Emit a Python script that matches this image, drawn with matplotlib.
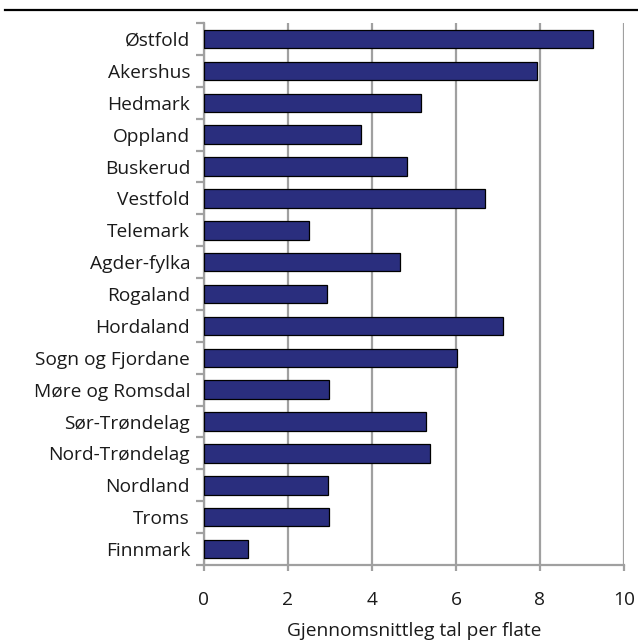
import matplotlib.pyplot as plt
import numpy as np

plt.rcParams['font.family'] = ['Open Sans', 'DejaVu Sans']

fylke = ["Østfold", "Akershus", "Hedmark", "Oppland", "Buskerud", "Vestfold",
         "Telemark", "Agder-fylka", "Rogaland", "Hordaland", "Sogn og Fjordane",
         "Møre og Romsdal", "Sør-Trøndelag", "Nord-Trøndelag", "Nordland",
         "Troms", "Finnmark"]
snitt = [9.27, 7.92, 5.17, 3.75, 4.83, 6.69, 2.51, 4.66, 2.94, 7.13, 6.02,
         2.98, 5.29, 5.38, 2.96, 2.98, 1.05]
xticks = [0, 2, 4, 6, 8, 10]

GREY = '#a0a0a0'
FS = 13.8

fig = plt.figure(figsize=(6.38, 6.41), dpi=100)
ax = fig.add_axes([0.3197, 0.1186, 0.978 - 0.3197, 0.964 - 0.1186])

pos = np.arange(len(fylke))
ax.barh(pos, snitt, height=0.58, color='#2a2e7e', edgecolor='black',
        linewidth=0.9, zorder=3)

ax.set_xlim(0, 10)
ax.set_ylim(len(fylke) - 0.5, -0.5)

ax.set_xticks(xticks)
ax.set_xticklabels([str(t) for t in xticks])
ax.xaxis.grid(True, color=GREY, linewidth=1.6, zorder=0)
ax.tick_params(axis='x', direction='out', length=4, width=1.6, color=GREY,
               labelsize=FS, pad=15, labelcolor='#1a1a1a')

# category ticks between bars, labels centred on bars
ax.set_yticks(np.arange(len(fylke) + 1) - 0.5)
ax.set_yticklabels([])
ax.set_yticks(pos, minor=True)
ax.set_yticklabels(fylke, minor=True)
ax.tick_params(axis='y', which='major', direction='out', length=6, width=1.6,
               color=GREY)
ax.tick_params(axis='y', which='minor', length=0, labelsize=FS, pad=10,
               labelcolor='#1a1a1a')

for s in ['top', 'right']:
    ax.spines[s].set_visible(False)
for s in ['left', 'bottom']:
    ax.spines[s].set_color(GREY)
    ax.spines[s].set_linewidth(1.6)

ax.set_xlabel('Gjennomsnittleg tal per flate', fontsize=FS, labelpad=9,
              color='#1a1a1a')

fig.add_artist(plt.Line2D([5 / 638, 1], [1 - 10 / 641, 1 - 10 / 641],
                          color='black', linewidth=1.6,
                          transform=fig.transFigure))

fig.savefig('out.png', dpi=100)
